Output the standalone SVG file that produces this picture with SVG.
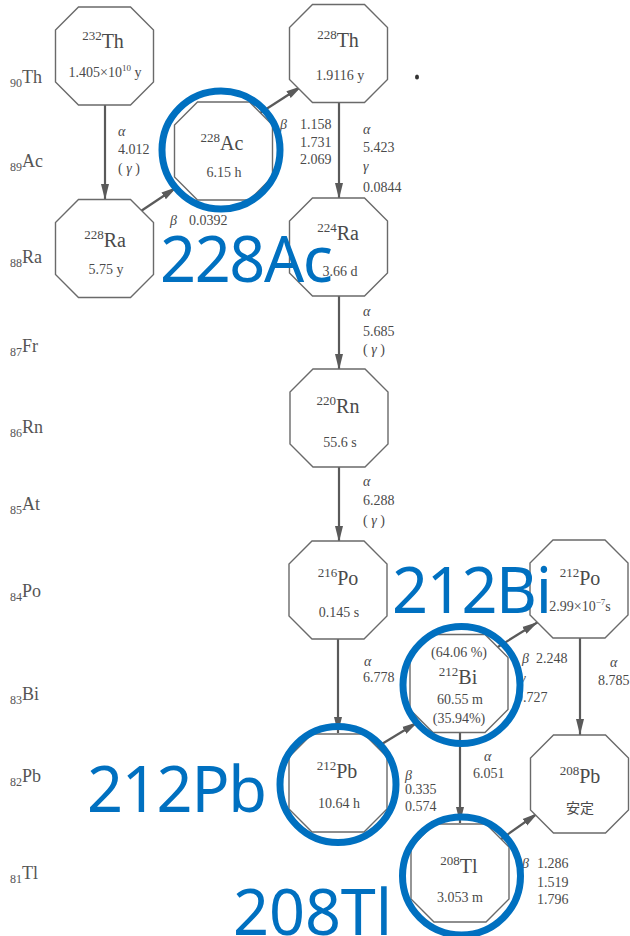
<svg xmlns="http://www.w3.org/2000/svg" width="630" height="936" viewBox="0 0 630 936">
  <style>
    .oct { fill: #ffffff; stroke: #6a6a6a; stroke-width: 1.4; }
    .t { font-family: "Liberation Serif", "DejaVu Serif", serif; fill: #4a4a4a; }
    .sym { font-size: 20px; }
    .sup { font-size: 13px; }
    .val { font-size: 14px; }
    .gk { font-style: italic; }
    .row { font-family: "Liberation Serif", "DejaVu Serif", serif; fill: #555555; font-size: 18px; }
    .row .z { font-size: 12px; }
    .conn line { stroke: #5a5a5a; stroke-width: 2.2; marker-end: url(#head); }
    .ring { fill: none; stroke: #0070c0; stroke-width: 7; }
    .big { font-family: "Noto Sans", "Open Sans", "Liberation Sans", sans-serif; font-size: 63px; fill: #0070c0; }
  </style>
  <defs>
    <polygon id="octagon" class="oct" points="-26,-49 26,-49 49,-26 49,26 26,49 -26,49 -49,26 -49,-26"/>
    <marker id="head" markerUnits="userSpaceOnUse" markerWidth="17" markerHeight="10" refX="16" refY="5" orient="auto">
      <path d="M0,1 L16,5 L0,9 Z" fill="#5a5a5a"/>
    </marker>
  </defs>

  <rect width="630" height="936" fill="#ffffff"/>

  <!-- element rows (atomic number + symbol) -->
  <g id="rows" class="row">
    <text x="10" y="83"><tspan class="z" dy="4">90</tspan><tspan dy="-4">Th</tspan></text>
    <text x="10" y="167"><tspan class="z" dy="4">89</tspan><tspan dy="-4">Ac</tspan></text>
    <text x="10" y="263"><tspan class="z" dy="4">88</tspan><tspan dy="-4">Ra</tspan></text>
    <text x="10" y="352"><tspan class="z" dy="4">87</tspan><tspan dy="-4">Fr</tspan></text>
    <text x="10" y="433"><tspan class="z" dy="4">86</tspan><tspan dy="-4">Rn</tspan></text>
    <text x="10" y="510"><tspan class="z" dy="4">85</tspan><tspan dy="-4">At</tspan></text>
    <text x="10" y="597"><tspan class="z" dy="4">84</tspan><tspan dy="-4">Po</tspan></text>
    <text x="10" y="700"><tspan class="z" dy="4">83</tspan><tspan dy="-4">Bi</tspan></text>
    <text x="10" y="782"><tspan class="z" dy="4">82</tspan><tspan dy="-4">Pb</tspan></text>
    <text x="10" y="879"><tspan class="z" dy="4">81</tspan><tspan dy="-4">Tl</tspan></text>
  </g>

  <!-- decay arrows -->
  <g id="connectors" class="conn">
    <line x1="105" y1="105" x2="105" y2="200"/>
    <line x1="138" y1="213" x2="177" y2="187"/>
    <line x1="257" y1="115" x2="302" y2="86"/>
    <line x1="339" y1="102" x2="339" y2="199"/>
    <line x1="339" y1="295" x2="339" y2="370"/>
    <line x1="339" y1="466" x2="339" y2="542"/>
    <line x1="338" y1="639" x2="338" y2="733"/>
    <line x1="372" y1="750" x2="418" y2="722"/>
    <line x1="493" y1="650" x2="538" y2="622"/>
    <line x1="460" y1="732" x2="460" y2="823"/>
    <line x1="580" y1="637" x2="580" y2="735"/>
    <line x1="497" y1="842" x2="538" y2="813"/>
  </g>

  <!-- nuclides -->
  <g id="th232">
    <use href="#octagon" x="104.5" y="56"/>
    <text class="t" x="103" y="48" text-anchor="middle"><tspan class="sup" dy="-8">232</tspan><tspan class="sym" dy="8">Th</tspan></text>
    <text class="t val" x="105" y="77" text-anchor="middle">1.405×10<tspan font-size="9" dy="-6">10</tspan><tspan dy="6"> y</tspan></text>
  </g>
  <g id="ra228">
    <use href="#octagon" x="104.5" y="248.5"/>
    <text class="t" x="105" y="247" text-anchor="middle"><tspan class="sup" dy="-8">228</tspan><tspan class="sym" dy="8">Ra</tspan></text>
    <text class="t val" x="106" y="274" text-anchor="middle">5.75 y</text>
  </g>
  <g id="ac228">
    <use href="#octagon" x="223.5" y="151"/>
    <text class="t" x="222" y="150" text-anchor="middle"><tspan class="sup" dy="-8">228</tspan><tspan class="sym" dy="8">Ac</tspan></text>
    <text class="t val" x="224" y="177" text-anchor="middle">6.15 h</text>
  </g>
  <g id="th228">
    <use href="#octagon" x="338.5" y="53.5"/>
    <text class="t" x="338" y="47" text-anchor="middle"><tspan class="sup" dy="-8">228</tspan><tspan class="sym" dy="8">Th</tspan></text>
    <text class="t val" x="340" y="80" text-anchor="middle">1.9116 y</text>
  </g>
  <g id="ra224">
    <use href="#octagon" x="338.5" y="247"/>
    <text class="t" x="338" y="240" text-anchor="middle"><tspan class="sup" dy="-8">224</tspan><tspan class="sym" dy="8">Ra</tspan></text>
    <text class="t val" x="340" y="276" text-anchor="middle">3.66 d</text>
  </g>
  <g id="rn220">
    <use href="#octagon" x="339" y="418"/>
    <text class="t" x="338" y="413" text-anchor="middle"><tspan class="sup" dy="-8">220</tspan><tspan class="sym" dy="8">Rn</tspan></text>
    <text class="t val" x="340" y="447" text-anchor="middle">55.6 s</text>
  </g>
  <g id="po216">
    <use href="#octagon" x="338" y="590"/>
    <text class="t" x="338" y="585" text-anchor="middle"><tspan class="sup" dy="-8">216</tspan><tspan class="sym" dy="8">Po</tspan></text>
    <text class="t val" x="339" y="617" text-anchor="middle">0.145 s</text>
  </g>
  <g id="po212">
    <use href="#octagon" x="579" y="589"/>
    <text class="t" x="580" y="585" text-anchor="middle"><tspan class="sup" dy="-8">212</tspan><tspan class="sym" dy="8">Po</tspan></text>
    <text class="t val" x="580" y="611" text-anchor="middle">2.99×10<tspan font-size="9" dy="-6">−7</tspan><tspan dy="6">s</tspan></text>
  </g>
  <g id="bi212">
    <use href="#octagon" x="459" y="683.5"/>
    <text class="t val" x="459" y="657" text-anchor="middle">(64.06 %)</text>
    <text class="t" x="458" y="684" text-anchor="middle"><tspan class="sup" dy="-8">212</tspan><tspan class="sym" dy="8">Bi</tspan></text>
    <text class="t val" x="460" y="704" text-anchor="middle">60.55 m</text>
    <text class="t val" x="459" y="723" text-anchor="middle">(35.94%)</text>
  </g>
  <g id="pb212">
    <use href="#octagon" x="338" y="783"/>
    <text class="t" x="337" y="778" text-anchor="middle"><tspan class="sup" dy="-8">212</tspan><tspan class="sym" dy="8">Pb</tspan></text>
    <text class="t val" x="339" y="808" text-anchor="middle">10.64 h</text>
  </g>
  <g id="pb208">
    <use href="#octagon" x="579.5" y="784"/>
    <text class="t" x="580" y="783" text-anchor="middle"><tspan class="sup" dy="-8">208</tspan><tspan class="sym" dy="8">Pb</tspan></text>
    <text x="580" y="813" text-anchor="middle" font-family="Noto Sans CJK JP, sans-serif" font-size="14" fill="#4a4a4a">安定</text>
  </g>
  <g id="tl208">
    <use href="#octagon" x="460" y="873"/>
    <text class="t" x="459" y="873" text-anchor="middle"><tspan class="sup" dy="-8">208</tspan><tspan class="sym" dy="8">Tl</tspan></text>
    <text class="t val" x="460" y="902" text-anchor="middle">3.053 m</text>
  </g>

  <!-- decay mode / energy labels -->
  <g id="labels" class="t val">
    <text x="118" y="136" class="gk">α</text>
    <text x="118" y="154">4.012</text>
    <text x="118" y="173">( <tspan class="gk">γ</tspan> )</text>

    <text x="170" y="225" class="gk">β</text>
    <text x="189" y="225">0.0392</text>

    <text x="280" y="129" class="gk">β</text>
    <text x="300" y="129">1.158</text>
    <text x="300" y="147">1.731</text>
    <text x="300" y="164">2.069</text>
    <text x="363" y="134" class="gk">α</text>
    <text x="363" y="152">5.423</text>
    <text x="363" y="171" class="gk">γ</text>
    <text x="363" y="192">0.0844</text>

    <text x="363" y="316" class="gk">α</text>
    <text x="363" y="336">5.685</text>
    <text x="363" y="354">( <tspan class="gk">γ</tspan> )</text>

    <text x="363" y="486" class="gk">α</text>
    <text x="363" y="505">6.288</text>
    <text x="363" y="525">( <tspan class="gk">γ</tspan> )</text>

    <text x="364" y="666" class="gk">α</text>
    <text x="363" y="682">6.778</text>

    <text x="522" y="663" class="gk">β</text>
    <text x="536" y="663">2.248</text>
    <text x="520" y="683" class="gk">γ</text>
    <text x="516" y="702">0.727</text>

    <text x="610" y="667" class="gk">α</text>
    <text x="598" y="685">8.785</text>

    <text x="484" y="761" class="gk">α</text>
    <text x="473" y="778">6.051</text>

    <text x="405" y="780" class="gk">β</text>
    <text x="405" y="794">0.335</text>
    <text x="405" y="811">0.574</text>

    <text x="522" y="868" class="gk">β</text>
    <text x="537" y="868">1.286</text>
    <text x="537" y="887">1.519</text>
    <text x="537" y="904">1.796</text>
  </g>

  <!-- speck -->
  <ellipse cx="417" cy="77" rx="2" ry="2.5" fill="#333333"/>

  <!-- highlighted nuclides -->
  <g id="highlights">
    <circle class="ring" cx="221" cy="150" r="59"/>
    <circle class="ring" cx="461.5" cy="685" r="58.5"/>
    <circle class="ring" cx="338" cy="784.5" r="58"/>
    <circle class="ring" cx="461.5" cy="876" r="59"/>
    <text class="big" x="160" y="282" textLength="173">228Ac</text>
    <text class="big" x="392" y="613" textLength="160">212Bi</text>
    <text class="big" x="87" y="812" textLength="180">212Pb</text>
    <text class="big" x="233" y="935" textLength="159">208Tl</text>
  </g>
</svg>
